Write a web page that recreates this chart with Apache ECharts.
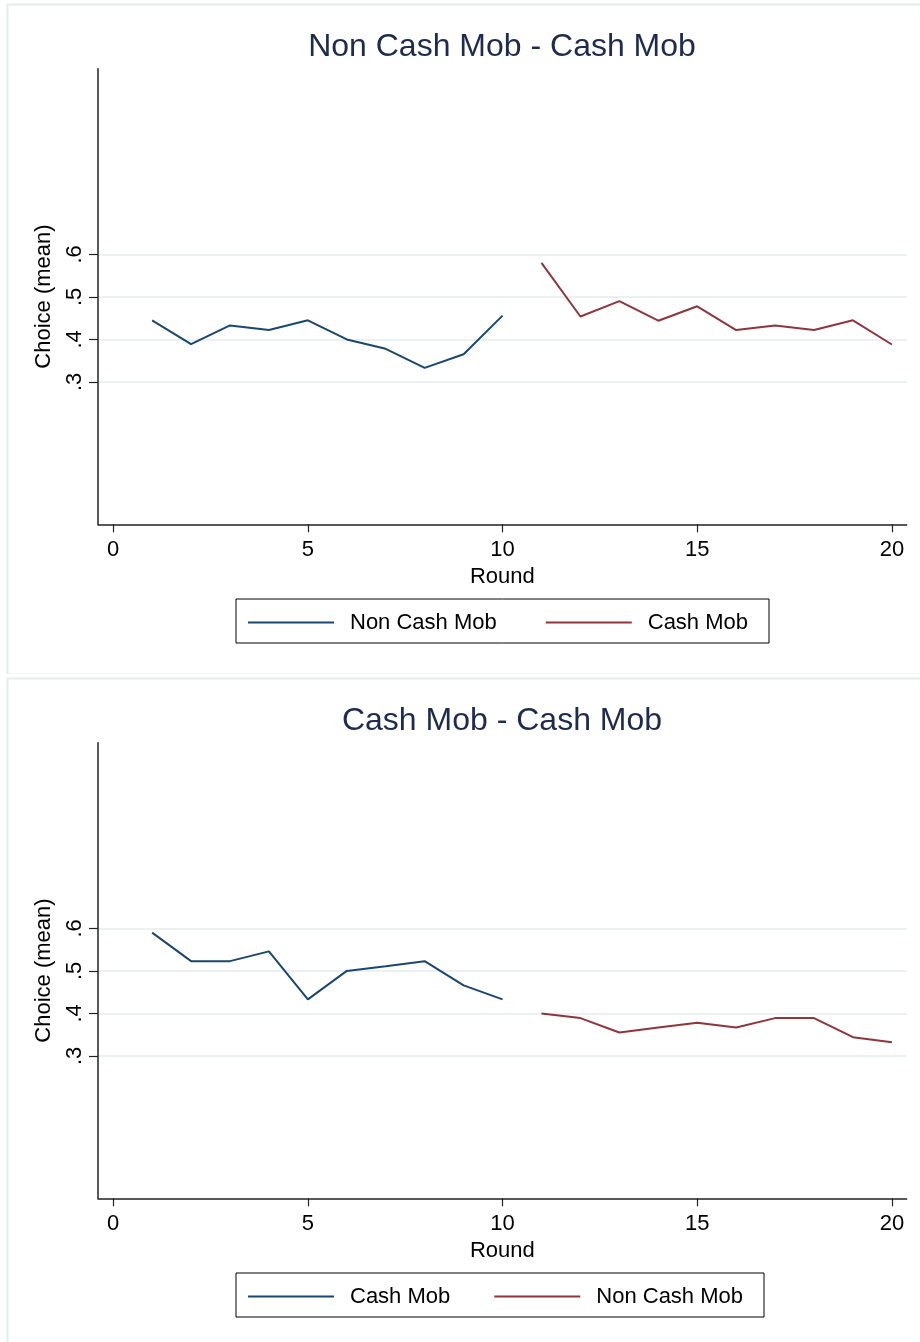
<!DOCTYPE html>
<html>
<head>
<meta charset="utf-8">
<script src="https://cdn.jsdelivr.net/npm/echarts@6/dist/echarts.min.js"></script>
<style>
  html, body { margin: 0; padding: 0; background: #fff; }
  #top { position: absolute; left: 0; top: 0; width: 920px; height: 674px; }
  #bottom { position: absolute; left: 0; top: 674px; width: 920px; height: 668px; }
</style>
</head>
<body>
<div id="top"></div>
<div id="bottom"></div>
<script>
// ---- data ----
const roundsFirst = [1, 2, 3, 4, 5, 6, 7, 8, 9, 10];
const roundsSecond = [11, 12, 13, 14, 15, 16, 17, 18, 19, 20];

const topTitle = 'Non Cash Mob - Cash Mob';
const topFirstName = 'Non Cash Mob';
const topSecondName = 'Cash Mob';
const topFirstValues = [0.445, 0.389, 0.433, 0.422, 0.445, 0.400, 0.378, 0.333, 0.365, 0.456];
const topSecondValues = [0.580, 0.454, 0.490, 0.444, 0.478, 0.422, 0.433, 0.422, 0.445, 0.388];

const bottomTitle = 'Cash Mob - Cash Mob';
const bottomFirstName = 'Cash Mob';
const bottomSecondName = 'Non Cash Mob';
const bottomFirstValues = [0.590, 0.523, 0.523, 0.546, 0.433, 0.500, 0.511, 0.523, 0.466, 0.433];
const bottomSecondValues = [0.400, 0.389, 0.355, 0.367, 0.378, 0.367, 0.389, 0.389, 0.344, 0.332];

const xTicks = [0, 5, 10, 15, 20];
const yTicks = [0.3, 0.4, 0.5, 0.6];
const xAxisTitle = 'Round';
const yAxisTitle = 'Choice (mean)';

// ---- styling ----
const FONT = '"Liberation Sans", Arial, Helvetica, sans-serif';
const NAVY = '#1a476f';
const MAROON = '#90353b';
const GRIDC = '#e4ecef';
const AXISC = '#222';

function pairs(xs, ys) { return xs.map((x, i) => [x, ys[i]]); }

function makeOption(title, n1, v1, n2, v2, legendGap) {
  return {
    animation: false,
    backgroundColor: '#fff',
    textStyle: { fontFamily: FONT },
    graphic: [{
      type: 'rect', silent: true, z: -10,
      shape: { x: 7.5, y: 4.5, width: 1000, height: 670 },
      style: { fill: 'none', stroke: '#e6ecee', lineWidth: 2 }
    }],
    title: {
      text: title, left: 502, top: 29, textAlign: 'center', padding: 0,
      textStyle: { fontFamily: FONT, fontSize: 32, fontWeight: 'normal', color: '#1e2b4f', lineHeight: 36 }
    },
    grid: { left: 98, top: 68.7, right: 13.3, height: 455.6, containLabel: false },
    legend: {
      data: [n1, n2], left: 236, top: 599, orient: 'horizontal',
      icon: 'rect', itemWidth: 86, itemHeight: 2, itemGap: legendGap,
      borderColor: '#000', borderWidth: 1, borderRadius: 0,
      padding: [10, 21, 7, 12],
      textStyle: { fontFamily: FONT, fontSize: 22, color: '#000', lineHeight: 24, padding: [3, 0, 0, 11] },
      selectedMode: false
    },
    xAxis: {
      type: 'value', min: -0.39, max: 20.38,
      name: xAxisTitle, nameLocation: 'middle', nameGap: 42,
      nameTextStyle: { fontFamily: FONT, fontSize: 22, color: '#000' },
      axisLine: { show: true, onZero: false, lineStyle: { color: AXISC, width: 1.5 } },
      axisTick: { show: true, customValues: xTicks, length: 8, lineStyle: { color: AXISC, width: 1.2 } },
      axisLabel: { customValues: xTicks, margin: 15, fontFamily: FONT, fontSize: 22, color: '#000' },
      splitLine: { show: false }
    },
    yAxis: {
      type: 'value', min: -0.035, max: 1.037,
      name: yAxisTitle, nameLocation: 'middle', nameRotate: 90, nameGap: 43,
      nameTextStyle: { fontFamily: FONT, fontSize: 22, color: '#000' },
      axisLine: { show: true, onZero: false, lineStyle: { color: AXISC, width: 1.5 } },
      axisTick: { show: true, customValues: yTicks, length: 9, lineStyle: { color: AXISC, width: 1.2 } },
      axisLabel: {
        customValues: yTicks, rotate: 90, margin: 12, fontFamily: FONT, fontSize: 22, color: '#000',
        formatter: v => v.toFixed(1).replace(/^0/, '')
      },
      splitLine: { show: false }
    },
    series: [
      {
        name: '_grid', type: 'line', data: [], z: 0, silent: true,
        markLine: {
          silent: true, symbol: 'none', animation: false, z: 0,
          label: { show: false },
          lineStyle: { color: GRIDC, width: 1.5, type: 'solid' },
          data: yTicks.map(v => ({ yAxis: v }))
        }
      },
      {
        name: n1, type: 'line', data: pairs(roundsFirst, v1), z: 6,
        symbol: 'none', color: NAVY, lineStyle: { color: NAVY, width: 2 }
      },
      {
        name: n2, type: 'line', data: pairs(roundsSecond, v2), z: 6,
        symbol: 'none', color: MAROON, lineStyle: { color: MAROON, width: 2 }
      }
    ]
  };
}

const c1 = echarts.init(document.getElementById('top'), null, { renderer: 'canvas' });
c1.setOption(makeOption(topTitle, topFirstName, topFirstValues, topSecondName, topSecondValues, 49));
const c2 = echarts.init(document.getElementById('bottom'), null, { renderer: 'canvas' });
c2.setOption(makeOption(bottomTitle, bottomFirstName, bottomFirstValues, bottomSecondName, bottomSecondValues, 44));
</script>
</body>
</html>
